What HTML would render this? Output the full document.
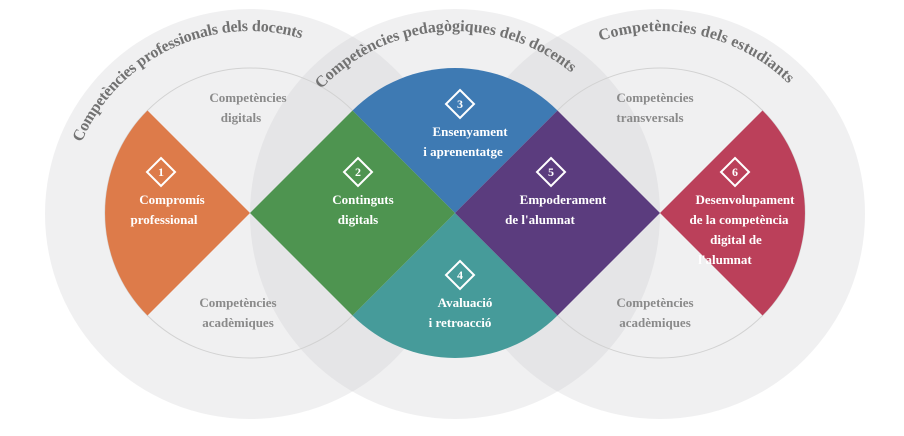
<!DOCTYPE html>
<html><head><meta charset="utf-8"><style>
html,body{margin:0;padding:0;background:#fff;}
svg{display:block;}
.t{font-family:"Liberation Serif",serif;font-weight:bold;font-size:13px;fill:#fff;text-anchor:middle;}
.g{font-family:"Liberation Serif",serif;font-weight:bold;font-size:13px;fill:#8a8a8a;text-anchor:middle;}
.h{font-family:"Liberation Serif",serif;font-weight:bold;font-size:16px;fill:#727272;}
.n{font-family:"Liberation Serif",serif;font-weight:bold;font-size:12px;fill:#fff;text-anchor:middle;}
</style></head><body>
<svg width="904" height="436" viewBox="0 0 904 436" xmlns="http://www.w3.org/2000/svg">
<defs>
<path id="p1" d="M81.5,142.5 A183,183 0 0 1 303.5,39"/>
<path id="p2" d="M321.2,89.2 A183,183 0 0 1 572.6,73.8"/>
<path id="p3" d="M600.4,41 A183,183 0 0 1 789.4,84.6"/>
</defs>
<circle cx="250" cy="214" r="205" fill="rgb(200,200,205)" fill-opacity="0.27"/>
<circle cx="455" cy="214" r="205" fill="rgb(200,200,205)" fill-opacity="0.27"/>
<circle cx="660" cy="214" r="205" fill="rgb(200,200,205)" fill-opacity="0.27"/>
<circle cx="250" cy="213" r="145" fill="none" stroke="#d2d2d2" stroke-width="1"/>
<circle cx="660" cy="213" r="145" fill="none" stroke="#d2d2d2" stroke-width="1"/>
<path d="M250,213 L147.5,110.5 A145,145 0 0 0 147.5,315.5 Z" fill="#dd7b4a"/>
<path d="M660,213 L762.5,110.5 A145,145 0 0 1 762.5,315.5 Z" fill="#bb405a"/>
<path d="M455,213 L352.5,110.5 A145,145 0 0 1 557.5,110.5 Z" fill="#3e7ab3"/>
<path d="M455,213 L352.5,315.5 A145,145 0 0 0 557.5,315.5 Z" fill="#469b9a"/>
<path d="M250,213 L352.5,110.5 L455,213 L352.5,315.5 Z" fill="#4e9450"/>
<path d="M455,213 L557.5,110.5 L660,213 L557.5,315.5 Z" fill="#5b3c7e"/>

<text class="h"><textPath href="#p1" textLength="266" lengthAdjust="spacing">Competències professionals dels docents</textPath></text>
<text class="h"><textPath href="#p2" textLength="276" lengthAdjust="spacing">Competències pedagògiques dels docents</textPath></text>
<text class="h"><textPath href="#p3" textLength="203" lengthAdjust="spacing">Competències dels estudiants</textPath></text>

<g fill="none" stroke="#fff" stroke-width="2">
<path d="M161,158 L175,172 L161,186 L147,172 Z"/>
<path d="M358,158 L372,172 L358,186 L344,172 Z"/>
<path d="M460,90 L474,104 L460,118 L446,104 Z"/>
<path d="M460,261 L474,275 L460,289 L446,275 Z"/>
<path d="M551,158 L565,172 L551,186 L537,172 Z"/>
<path d="M735,158 L749,172 L735,186 L721,172 Z"/>
</g>
<text class="n" x="161" y="176">1</text>
<text class="n" x="358" y="176">2</text>
<text class="n" x="460" y="108">3</text>
<text class="n" x="460" y="279">4</text>
<text class="n" x="551" y="176">5</text>
<text class="n" x="735" y="176">6</text>

<text class="t" x="172" y="204">Compromís</text>
<text class="t" x="164" y="224">professional</text>
<text class="t" x="363" y="204">Continguts</text>
<text class="t" x="358" y="224">digitals</text>
<text class="t" x="470" y="136">Ensenyament</text>
<text class="t" x="463" y="156">i aprenentatge</text>
<text class="t" x="465" y="307">Avaluació</text>
<text class="t" x="460" y="327">i retroacció</text>
<text class="t" x="563" y="204">Empoderament</text>
<text class="t" x="540" y="224">de l'alumnat</text>
<text class="t" x="745" y="204">Desenvolupament</text>
<text class="t" x="739" y="224">de la competència</text>
<text class="t" x="736" y="244">digital de</text>
<text class="t" x="725" y="264">l'alumnat</text>

<text class="g" x="248" y="102">Competències</text>
<text class="g" x="241" y="122">digitals</text>
<text class="g" x="238" y="307">Competències</text>
<text class="g" x="238" y="327">acadèmiques</text>
<text class="g" x="655" y="102">Competències</text>
<text class="g" x="650" y="122">transversals</text>
<text class="g" x="655" y="307">Competències</text>
<text class="g" x="655" y="327">acadèmiques</text>
</svg>
</body></html>
